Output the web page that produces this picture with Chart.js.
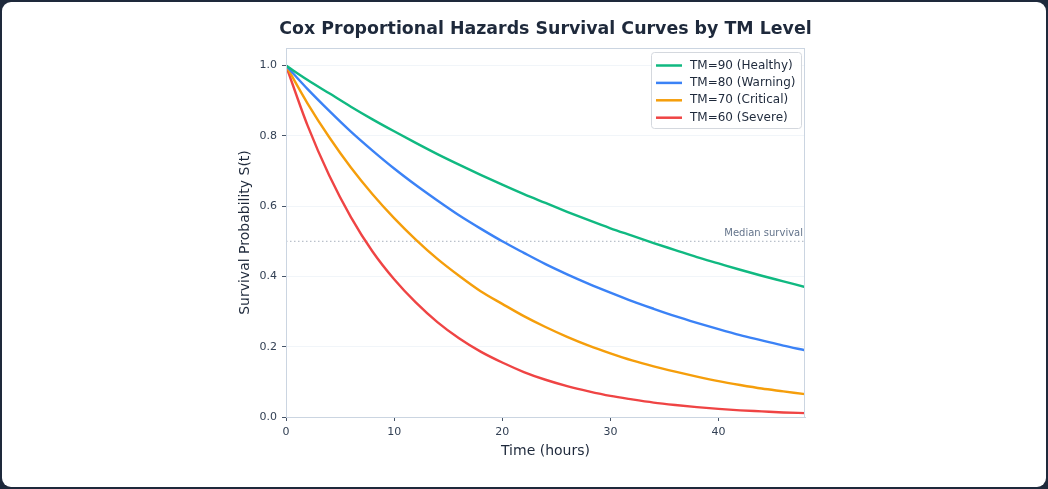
<!DOCTYPE html>
<html>
<head>
<meta charset="utf-8">
<script src="https://cdn.jsdelivr.net/npm/chart.js@4/dist/chart.umd.min.js"></script>
<style>
  html, body { margin: 0; padding: 0; }
  body { background: #1e293b; width: 1048px; height: 489px; overflow: hidden; }
  .card {
    position: absolute; left: 2px; top: 2px; width: 1044px; height: 485px;
    background: #ffffff; border-radius: 9px;
  }
  #chart { position: absolute; left: 0; top: 0; }
</style>
</head>
<body>
<div class="card"></div>
<canvas id="chart" width="1048" height="489"></canvas>
<script>
// time points (hours)
const hours = [0, 2, 4, 6, 8, 10, 12, 14, 16, 18, 20, 22, 24, 26, 28, 30, 32, 34, 36, 38, 40, 42, 44, 46, 48];

// survival probability
const tm90 = [1.000, 0.959, 0.921, 0.883, 0.847, 0.813, 0.780, 0.748, 0.718, 0.689, 0.661, 0.634, 0.609,
              0.584, 0.560, 0.537, 0.516, 0.495, 0.475, 0.455, 0.437, 0.419, 0.402, 0.386, 0.370];
const tm80 = [1.000, 0.933, 0.871, 0.812, 0.758, 0.707, 0.660, 0.616, 0.574, 0.536, 0.500, 0.467, 0.435,
              0.406, 0.379, 0.354, 0.330, 0.308, 0.287, 0.268, 0.250, 0.233, 0.218, 0.203, 0.190];
const tm70 = [1.000, 0.892, 0.796, 0.710, 0.634, 0.566, 0.505, 0.450, 0.402, 0.358, 0.322, 0.287, 0.256,
              0.228, 0.203, 0.181, 0.161, 0.144, 0.129, 0.115, 0.102, 0.091, 0.081, 0.073, 0.065];
const tm60 = [1.000, 0.829, 0.687, 0.569, 0.471, 0.392, 0.326, 0.270, 0.224, 0.186, 0.155, 0.128, 0.106,
              0.088, 0.073, 0.060, 0.050, 0.041, 0.034, 0.028, 0.023, 0.019, 0.016, 0.013, 0.011];

const seriesNames = ['TM=90 (Healthy)', 'TM=80 (Warning)', 'TM=70 (Critical)', 'TM=60 (Severe)'];
const seriesColors = ['#10b981', '#3b82f6', '#f59e0b', '#ef4444'];
const medianLevel = 0.5;
const yTicks = [0, 0.2, 0.4, 0.6, 0.8, 1.0];
const xTicks = [0, 10, 20, 30, 40];
const chartTitle = 'Cox Proportional Hazards Survival Curves by TM Level';

const font = "'DejaVu Sans', sans-serif";
const toPoints = vals => vals.map((v, i) => ({ x: hours[i], y: v }));

const datasets = [tm90, tm80, tm70, tm60].map((vals, i) => ({
  label: seriesNames[i],
  data: toPoints(vals),
  borderColor: seriesColors[i],
  borderWidth: 2.4,
  pointRadius: 0,
  cubicInterpolationMode: 'monotone',
  fill: false
}));

datasets.push({
  label: 'median',
  data: [{ x: hours[0], y: medianLevel }, { x: hours[hours.length - 1], y: medianLevel }],
  borderColor: '#a8b1bd',
  borderWidth: 1,
  borderDash: [1.5, 2.5],
  pointRadius: 0,
  order: 10
});

// title over the plot, box around plot, median label and legend inside the plot
const plotExtras = {
  id: 'plotExtras',
  afterDatasetsDraw(chart) {
    const { ctx, chartArea: a, scales } = chart;
    ctx.save();
    ctx.strokeStyle = '#cbd5e1';
    ctx.lineWidth = 1;
    ctx.strokeRect(a.left + 0.5, a.top + 0.5, a.right - a.left - 1, a.bottom - a.top);

    ctx.fillStyle = '#1e293b';
    ctx.font = 'bold 17.4px ' + font;
    ctx.textAlign = 'center';
    ctx.textBaseline = 'middle';
    ctx.fillText(chartTitle, (a.left + a.right) / 2, 29);

    ctx.fillStyle = '#64748b';
    ctx.font = '10px ' + font;
    ctx.textAlign = 'right';
    ctx.textBaseline = 'bottom';
    ctx.fillText('Median survival', a.right - 2, scales.y.getPixelForValue(medianLevel) - 3);

    // legend
    const bx = a.right - 154, by = a.top + 4, bw = 150, bh = 76;
    ctx.fillStyle = 'rgba(255,255,255,0.85)';
    ctx.strokeStyle = '#d4d8de';
    ctx.beginPath();
    ctx.roundRect(bx + 0.5, by + 0.5, bw, bh, 3);
    ctx.fill();
    ctx.stroke();
    ctx.font = '12px ' + font;
    ctx.textAlign = 'left';
    ctx.textBaseline = 'middle';
    seriesNames.forEach((name, i) => {
      const yy = by + 13.5 + i * 17.4;
      ctx.strokeStyle = seriesColors[i];
      ctx.lineWidth = 2.5;
      ctx.beginPath();
      ctx.moveTo(bx + 5, yy);
      ctx.lineTo(bx + 31, yy);
      ctx.stroke();
      ctx.fillStyle = '#1e293b';
      ctx.fillText(name, bx + 39, yy);
    });
    ctx.restore();
  }
};

new Chart(document.getElementById('chart'), {
  type: 'line',
  data: { datasets },
  plugins: [plotExtras],
  options: {
    responsive: false,
    animation: false,
    layout: { padding: { left: 226, right: 243, top: 48, bottom: 22 } },
    plugins: {
      legend: { display: false },
      tooltip: { enabled: false },
      title: { display: false }
    },
    scales: {
      x: {
        type: 'linear',
        min: 0,
        max: 48,
        afterBuildTicks: s => { s.ticks = xTicks.map(v => ({ value: v })); },
        afterFit: s => { s.height = 50; },
        grid: { drawOnChartArea: false, tickColor: '#475569', tickLength: 4, color: '#475569' },
        border: { color: '#cbd5e1' },
        ticks: { color: '#334155', font: { family: font, size: 11 }, padding: 5, maxRotation: 0 },
        title: {
          display: true, text: 'Time (hours)', color: '#1e293b',
          font: { family: font, size: 14 }, padding: { top: 2, bottom: 7 }
        }
      },
      y: {
        min: 0,
        max: 1.05,
        afterBuildTicks: s => { s.ticks = yTicks.map(v => ({ value: v })); },
        afterFit: s => { s.width = 60; },
        grid: { color: '#f1f5f9', tickColor: '#475569', tickLength: 4 },
        border: { color: '#cbd5e1' },
        ticks: {
          color: '#334155', font: { family: font, size: 11 }, padding: 5,
          callback: v => v.toFixed(1)
        },
        title: {
          display: true, text: 'Survival Probability S(t)', color: '#1e293b',
          font: { family: font, size: 14 }, padding: { top: 11, bottom: 4 }
        }
      }
    }
  }
});
</script>
</body>
</html>
